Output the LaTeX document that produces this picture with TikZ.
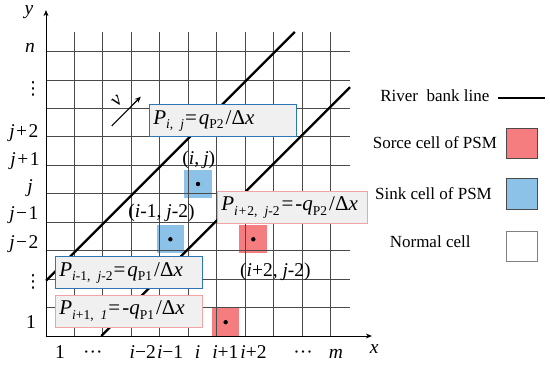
\documentclass[tikz,border=0pt]{standalone}
\usepackage{fontspec}
\setmainfont{Liberation Serif}
\newfontfamily\dvsym{DejaVu Sans}
\usetikzlibrary{arrows.meta}
\definecolor{srcred}{HTML}{F57D80}
\definecolor{sinkblue}{HTML}{8DC2E8}
\definecolor{gridgray}{HTML}{4A4A4A}
\definecolor{boxfill}{HTML}{F0F0F0}
\definecolor{boxblue}{HTML}{2E75B6}
\definecolor{boxred}{HTML}{F2A3A6}
\newcommand{\ii}[1]{\textit{#1}}
\newcommand{\sbs}[1]{\raisebox{-4.5pt}{\fontsize{13.5}{13.5}\selectfont #1}}
\newcommand{\vdt}{{\dvsym\fontsize{18}{18}\selectfont ⋮}}
\tikzset{
  gridline/.style={draw=gridgray, line width=0.8pt},
  axisline/.style={draw=black, line width=0.9pt, -{Stealth[length=6pt,width=5pt]}},
  bankline/.style={draw=black, line width=2.2pt},
  srccell/.style={fill=srcred},
  sinkcell/.style={fill=sinkblue},
  dotmark/.style={fill=black},
  eqbox/.style={draw, fill=boxfill, line width=1pt, minimum height=32pt, inner xsep=4pt, inner ysep=2pt,
    text width=139pt, align=left, font=\fontsize{21}{22}\selectfont},
  bluebox/.style={eqbox, draw=boxblue},
  redbox/.style={eqbox, draw=boxred},
  axlabel/.style={font=\fontsize{19.5}{22}\selectfont, anchor=base, inner sep=0pt},
  celllabel/.style={font=\fontsize{19.5}{22}\selectfont, anchor=base, inner sep=0pt},
  legtext/.style={font=\fontsize{17}{20}\selectfont, inner sep=1pt},
  legsquare/.style={draw=gridgray, line width=0.9pt, minimum width=30.5pt, minimum height=30.5pt, inner sep=0pt},
}
\begin{document}
\begin{tikzpicture}[x=27.64pt, y=27.64pt]
\useasboundingbox (-1.664,-1.049) rectangle (18.235,12.157);
% coloured cells
\fill[sinkcell] (5,5) rectangle (6,6);
\fill[sinkcell] (4,3) rectangle (5,4);
\fill[srccell] (7,3) rectangle (8,4);
\fill[srccell] (6,0) rectangle (7,1);
% grid
\draw[gridline] (0,0) grid (11,11);
% dots
\fill[dotmark] (5.5,5.5) circle (0.08);
\fill[dotmark] (4.5,3.5) circle (0.08);
\fill[dotmark] (7.5,3.5) circle (0.08);
\fill[dotmark] (6.5,0.5) circle (0.08);
% axes
\coordinate (O) at (0,0);
\coordinate (ytip) at (0,11.79);
\coordinate (xtip) at (11.79,0);
\draw[axisline] (O) -- (ytip);
\draw[axisline] (O) -- (xtip);
% river bank lines
\coordinate (b1s) at (0,2);
\coordinate (b1e) at (9,11);
\coordinate (b2s) at (2,0);
\coordinate (b2e) at (11,9);
\draw[bankline] (b1s) -- (b1e);
\draw[bankline] (b2s) -- (b2e);
% velocity arrow
\coordinate (vs) at (2.38,7.60);
\coordinate (ve) at (3.43,8.66);
\draw[line width=1.1pt, -{Stealth[length=6pt,width=5pt]}] (vs) -- (ve);
\node[font=\fontsize{20}{20}\selectfont\itshape, rotate=45, inner sep=0pt] (vlab) at (2.57,8.50) {v};
% equation boxes
\node[bluebox] (box1) at (6.40,7.78) {\ii{P}\sbs{\ii{i}, \ii{j}}\kern1pt=\kern2pt\ii{q}\sbs{P2}\kern2pt/Δ\ii{x}};
\node[redbox, text width=142pt] (box2) at (8.91,4.65) {\ii{P}\sbs{\ii{i}\kern1pt+\kern1pt2, \ii{j}-2}\kern2pt=\kern2pt-\ii{q}\sbs{P2}\kern2pt/Δ\ii{x}};
\node[bluebox] (box3) at (3.00,2.28) {\ii{P}\sbs{\ii{i}-1, \ii{j}-2}\kern1pt=\kern2pt\ii{q}\sbs{P1}\kern2pt/Δ\ii{x}};
\node[redbox] (box4) at (3.00,0.90) {\ii{P}\sbs{\ii{i}+1, \ii{1}}\kern1pt=\kern2pt-\ii{q}\sbs{P1}\kern2pt/Δ\ii{x}};
% cell labels
\node[celllabel] (lij) at (5.53,6.19) {(\ii{i},\kern4pt\ii{j})};
\node[celllabel] (lim) at (4.18,4.27) {(\ii{i}-1, \ii{j}-2)};
\node[celllabel] (lip) at (8.30,2.15) {(\ii{i}+2, \ii{j}-2)};
% axis labels
\node[axlabel] (ylab) at (-0.62,11.65) {\ii{y}};
\node[axlabel] (xlab) at (11.87,-0.62) {\ii{x}};
% row labels
\node[axlabel] (rn) at (-0.58,10.27) {\ii{n}};
\node[axlabel] (rd1) at (-0.47,8.72) {\vdt};
\node[axlabel] (rj2) at (-0.80,7.17) {\ii{j}\kern1.5pt+\kern1.5pt2};
\node[axlabel] (rj1) at (-0.76,6.16) {\ii{j}\kern1.5pt+\kern1.5pt1};
\node[axlabel] (rj) at (-0.58,5.20) {\ii{j}};
\node[axlabel] (rjm1) at (-0.80,4.23) {\ii{j}\kern1.5pt−\kern1.5pt1};
\node[axlabel] (rjm2) at (-0.80,3.18) {\ii{j}\kern1.5pt−\kern1.5pt2};
\node[axlabel] (rd2) at (-0.47,1.77) {\vdt};
\node[axlabel] (r1) at (-0.54,0.29) {1};
% column labels
\node[axlabel] (c1) at (0.51,-0.80) {1};
\node[axlabel] (cd1) at (1.70,-0.80) {···};
\node[axlabel] (cim2) at (3.50,-0.80) {\ii{i}−2};
\node[axlabel] (cim1) at (4.49,-0.80) {\ii{i}−1};
\node[axlabel] (ci) at (5.48,-0.80) {\ii{i}};
\node[axlabel] (cip1) at (6.49,-0.80) {\ii{i}+1};
\node[axlabel] (cip2) at (7.51,-0.80) {\ii{i}+2};
\node[axlabel] (cd2) at (9.30,-0.80) {···};
\node[axlabel] (cm) at (10.49,-0.80) {\ii{m}};
% legend
\node[legtext] (lgbank) at (14.07,8.68) {River\ \ bank line};
\coordinate (lgl1) at (16.35,8.61);
\coordinate (lgl2) at (18.05,8.61);
\draw[line width=2pt] (lgl1) -- (lgl2);
\node[legtext] (lgsrc) at (14.07,6.98) {Sorce cell of PSM};
\node[legsquare, fill=srcred] (sqsrc) at (17.22,6.975) {};
\node[legtext] (lgsink) at (14.02,5.17) {Sink cell of PSM};
\node[legsquare, fill=sinkblue] (sqsink) at (17.22,5.145) {};
\node[legtext] (lgnorm) at (13.90,3.40) {Normal cell};
\node[legsquare, fill=white, draw=gray] (sqnorm) at (17.22,3.245) {};
\end{tikzpicture}
\end{document}
